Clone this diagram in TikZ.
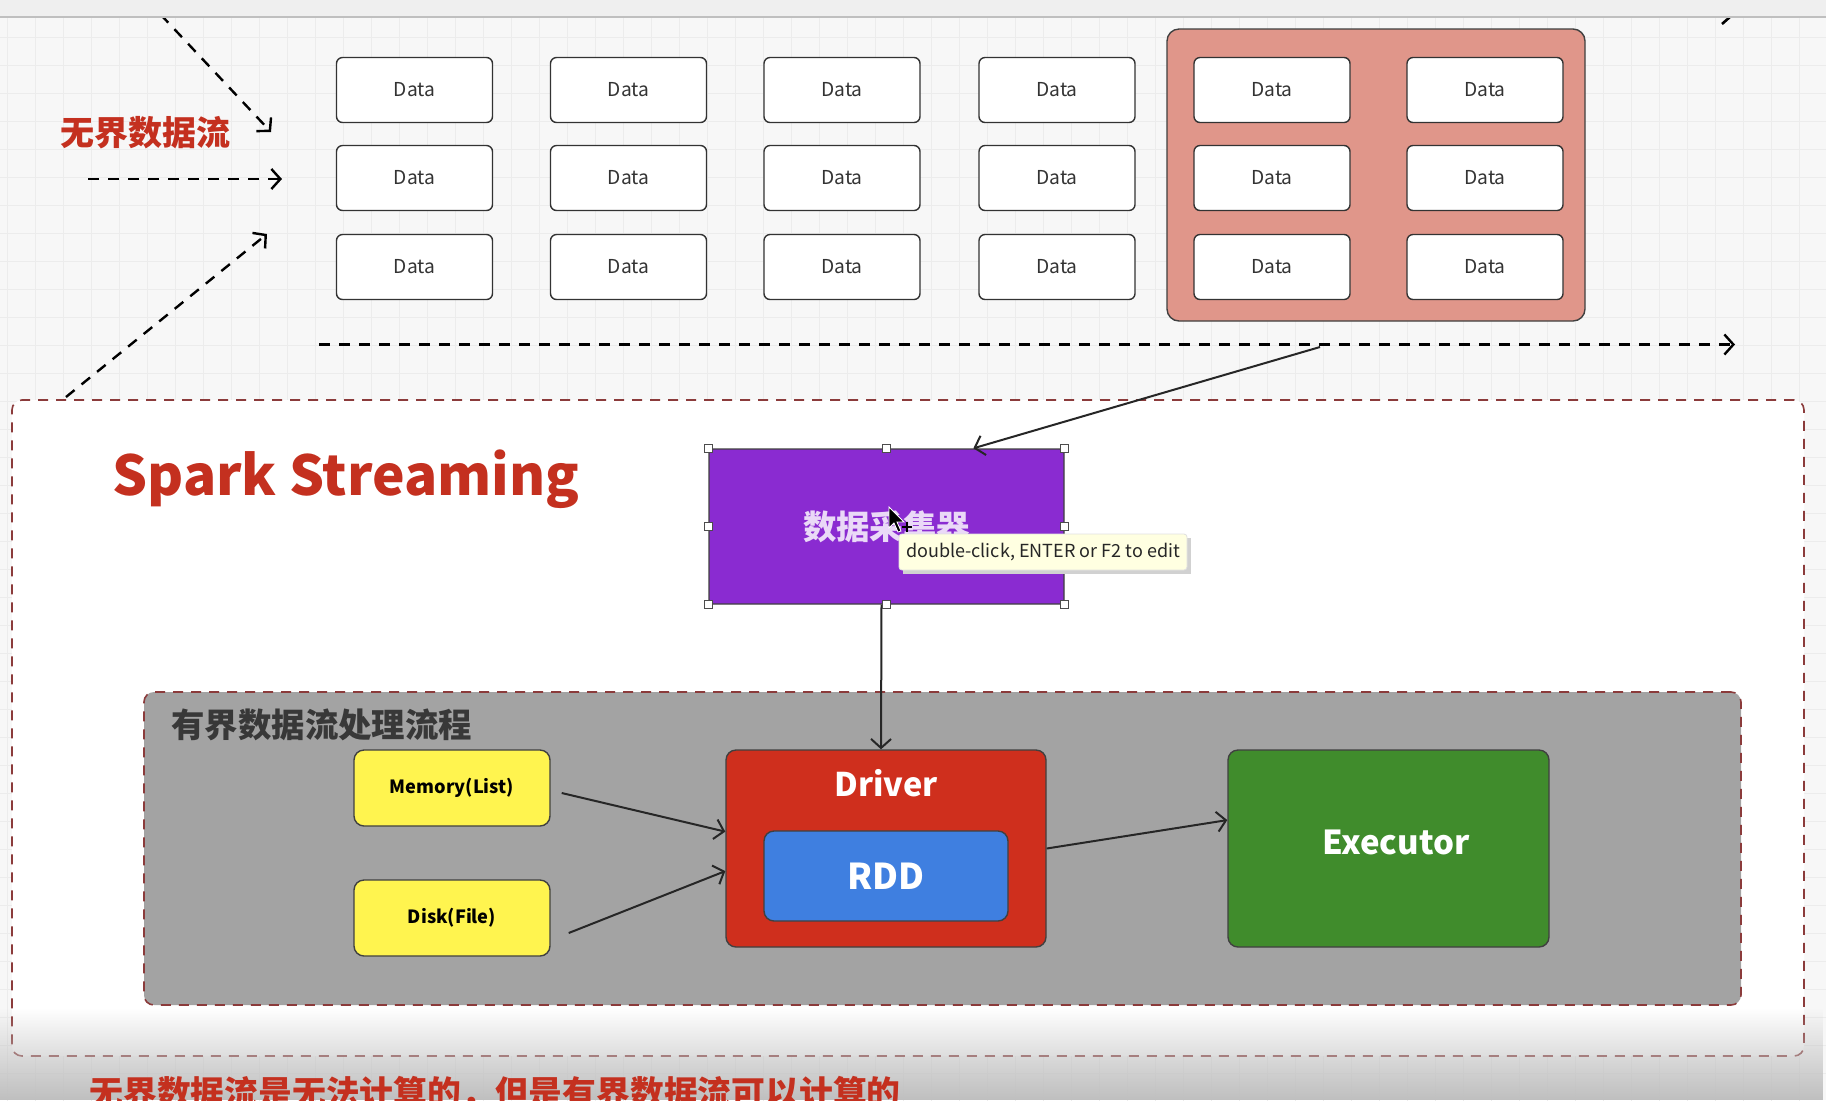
\documentclass[tikz,border=0pt]{standalone}
\usepackage{fontspec}
\setmainfont{Noto Sans CJK SC}
\usetikzlibrary{arrows.meta,calc,fadings}

\definecolor{gridgray}{HTML}{ECECEC}
\definecolor{bargray}{HTML}{EFEFEF}
\definecolor{titlered}{HTML}{C4301F}
\definecolor{pinkbg}{HTML}{E0968A}
\definecolor{collectorpurple}{HTML}{8A2BD1}
\definecolor{boundgray}{HTML}{A3A3A3}
\definecolor{memyellow}{HTML}{FFF44F}
\definecolor{driverred}{HTML}{CF2F1D}
\definecolor{rddblue}{HTML}{3F7FE0}
\definecolor{execgreen}{HTML}{408C2C}
\definecolor{borderred}{HTML}{8B3B3B}
\definecolor{tipyellow}{HTML}{FFFFE1}

\tikzset{
  databox/.style={draw=black!80, fill=white, line width=0.7pt, rounded corners=3pt,
    minimum width=78pt, minimum height=32.5pt, inner sep=0pt,
    font=\fontsize{9.6}{12}\selectfont, text=black!80},
  flowbox/.style={draw=black!75, line width=0.7pt, rounded corners=5pt, inner sep=0pt},
  redframe/.style={draw=borderred, line width=0.8pt, dash pattern=on 5pt off 4pt, rounded corners=5pt, inner sep=0pt},
  dasharrow/.style={line width=1.2pt, dash pattern=on 5.5pt off 4.5pt, -{Straight Barb[length=4.5pt,width=10pt]}},
  solidarrow/.style={line width=1pt, draw=black!85, -{Straight Barb[length=4.5pt,width=10pt]}},
  handle/.style={draw=black!70, fill=white, minimum size=4pt, inner sep=0pt, line width=0.4pt},
}

\begin{document}
\begin{tikzpicture}[x=0.5pt, y=-0.5pt]
\useasboundingbox (0,0) rectangle (1826,1100);
\fill[white!97!black] (0,0) rectangle (1826,1100);
\draw[gridgray, line width=0.5pt, step=14pt, xshift=3.5pt, yshift=-4.6pt] (-14pt,-560pt) grid (914pt,14pt);

% unbounded stream
\coordinate (in1) at (147,0);
\coordinate (tip1) at (271,132);
\coordinate (in2) at (88,179);
\coordinate (tip2) at (282,179);
\coordinate (in3) at (66,397);
\coordinate (tip3) at (267,234);
\coordinate (out1) at (319,344.5);
\coordinate (tip4) at (1735,344.5);
\draw[dasharrow] (in1) -- (tip1);
\draw[dasharrow] (in2) -- (tip2);
\draw[dasharrow] (in3) -- (tip3);
\draw[dasharrow] (out1) -- (tip4);
\draw[line width=1.3pt] (1722,24) -- (1731,16);

\fill[bargray] (0,0) rectangle (1826,17);
\draw[black!25, line width=0.6pt] (0,17) -- (1826,17);

\draw (145,133) node (unbound) [text=titlered, font=\fontsize{17}{20}\selectfont\bfseries] {无界数据流};

\draw (1376,175) node (batch) [flowbox, fill=pinkbg, rounded corners=6pt, minimum width=209pt, minimum height=146pt] {};

\draw (414.5,90)  node (d11) [databox] {Data};
\draw (628.5,90)  node (d12) [databox] {Data};
\draw (842,90)    node (d13) [databox] {Data};
\draw (1057,90)   node (d14) [databox] {Data};
\draw (1272,90)   node (d15) [databox] {Data};
\draw (1485,90)   node (d16) [databox] {Data};

\draw (414.5,178) node (d21) [databox] {Data};
\draw (628.5,178) node (d22) [databox] {Data};
\draw (842,178)   node (d23) [databox] {Data};
\draw (1057,178)  node (d24) [databox] {Data};
\draw (1272,178)  node (d25) [databox] {Data};
\draw (1485,178)  node (d26) [databox] {Data};

\draw (414.5,267) node (d31) [databox] {Data};
\draw (628.5,267) node (d32) [databox] {Data};
\draw (842,267)   node (d33) [databox] {Data};
\draw (1057,267)  node (d34) [databox] {Data};
\draw (1272,267)  node (d35) [databox] {Data};
\draw (1485,267)  node (d36) [databox] {Data};

% spark streaming
\draw (908,728) node (spark) [redframe, fill=white, minimum width=896pt, minimum height=328pt] {};
\draw (112,495) node (sparklbl) [anchor=base west, inner sep=0pt, text=titlered, font=\fontsize{27.5}{32}\selectfont\bfseries] {Spark Streaming};

\draw (886.5,526.5) node (collector) [flowbox, rounded corners=2pt, fill=collectorpurple, minimum width=177.5pt, minimum height=77.5pt,
  text=white!82!collectorpurple, font=\fontsize{16.7}{20}\selectfont\bfseries] {数据采集器};
\coordinate (src) at (1320,347);
\draw[solidarrow] (src) -- (collector.42);

\draw (942.5,848.5) node (bounded) [redframe, fill=boundgray, minimum width=798.5pt, minimum height=156.5pt] {};
\draw (171,725) node (boundlbl) [anchor=west, inner sep=0pt, text=black!78, font=\fontsize{16.7}{20}\selectfont\bfseries] {有界数据流处理流程};

\draw (452,788) node (mem) [flowbox, fill=memyellow, minimum width=98pt, minimum height=38pt, font=\fontsize{9.1}{11}\selectfont\bfseries] {Memory(List)};
\draw (452,918) node (disk) [flowbox, fill=memyellow, minimum width=98pt, minimum height=38pt, font=\fontsize{9.1}{11}\selectfont\bfseries] {Disk(File)};

\draw (886,848.5) node (driver) [flowbox, fill=driverred, minimum width=160pt, minimum height=98.5pt] {};
\draw (886,783) node (driverlbl) [text=white, font=\fontsize{16.3}{20}\selectfont\bfseries] {Driver};
\draw (886,876) node (rdd) [flowbox, fill=rddblue, minimum width=122pt, minimum height=45pt, text=white, font=\fontsize{17.8}{22}\selectfont\bfseries] {RDD};
\draw (1388.5,848.5) node (executor) [flowbox, fill=execgreen, minimum width=160.5pt, minimum height=98.5pt] {};
\draw (1396,842) node (execlbl) [text=white, font=\fontsize{16.5}{20}\selectfont\bfseries] {Executor};

\draw[solidarrow] ($(collector.south)+(-5,0)$) -- ($(driver.north)+(-5,0)$);
\draw[solidarrow] ($(mem.east)+(11,5)$) -- (driver.174);
\draw[solidarrow] ($(disk.east)+(18,15)$) -- (driver.188);
\draw[solidarrow] (driver.east) -- (executor.170);

% selection handles and tooltip
\foreach \a in {north west,north,north east,east,south east,south,south west,west}
  \node[handle] at (collector.\a) {};
\fill[black!18] (903,538) rectangle (1191,574);
\draw (1043,552) node (tooltip) [fill=tipyellow, draw=black!12, line width=0.4pt, rounded corners=1.5pt,
  minimum width=144pt, minimum height=18pt, inner sep=0pt, text=black!85, font=\fontsize{9}{11}\selectfont] {double-click, ENTER or F2 to edit};
\filldraw[fill=black, draw=white, line width=0.4pt] (889,507) -- (889,528) -- (894,523) -- (898,532) -- (901,531) -- (897,522) -- (904,522) -- cycle;
\draw[line width=0.8pt] (902,527) -- (912,527) (907,522) -- (907,532);

% bottom
\fill[black!25, path fading=north] (0,1008) rectangle (1826,1100);
\draw (89,1093) node (note) [anchor=west, inner sep=0pt, text=titlered, font=\fontsize{16.9}{20}\selectfont\bfseries] {无界数据流是无法计算的，但是有界数据流可以计算的};
\end{tikzpicture}
\end{document}
